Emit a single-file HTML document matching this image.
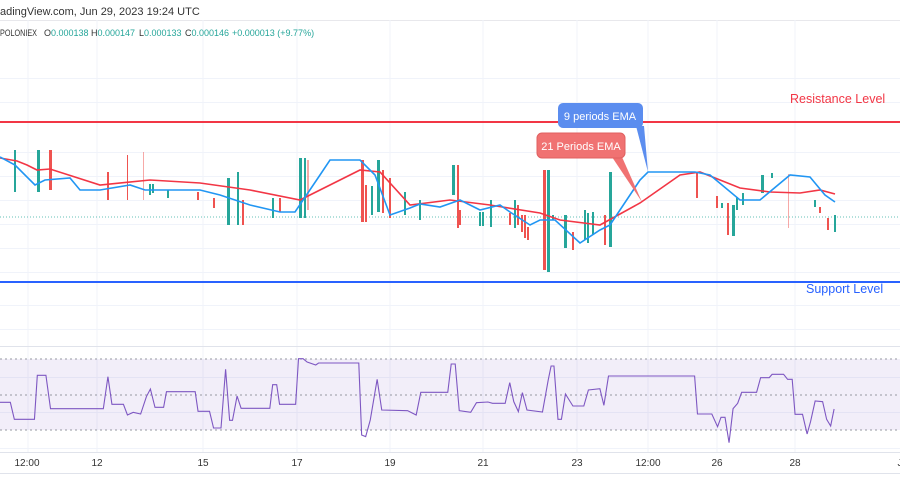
<!DOCTYPE html>
<html><head><meta charset="utf-8"><style>
html,body{margin:0;padding:0;background:#fff;width:900px;height:500px;overflow:hidden}
svg{display:block;font-family:"Liberation Sans",sans-serif}
</style></head><body>
<svg width="900" height="500" viewBox="0 0 900 500" xmlns="http://www.w3.org/2000/svg">
<rect width="900" height="500" fill="#fff"/>
<g stroke="#f0f3fa" stroke-width="1">
<line x1="0" y1="20.5" x2="900" y2="20.5" stroke="#e8e8ec"/>
<line x1="0" y1="78.5" x2="900" y2="78.5"/><line x1="0" y1="102.5" x2="900" y2="102.5"/>
<line x1="0" y1="152.5" x2="900" y2="152.5"/><line x1="0" y1="176.5" x2="900" y2="176.5"/>
<line x1="0" y1="200.5" x2="900" y2="200.5"/><line x1="0" y1="224.5" x2="900" y2="224.5"/>
<line x1="0" y1="248.5" x2="900" y2="248.5"/><line x1="0" y1="272.5" x2="900" y2="272.5"/>
<line x1="0" y1="305.5" x2="900" y2="305.5"/><line x1="0" y1="329.5" x2="900" y2="329.5"/>
<line x1="0" y1="377.5" x2="900" y2="377.5"/><line x1="0" y1="412.5" x2="900" y2="412.5"/>
<line x1="0" y1="448.5" x2="900" y2="448.5"/>
<line x1="28" y1="20" x2="28" y2="452"/><line x1="97" y1="20" x2="97" y2="452"/>
<line x1="203" y1="20" x2="203" y2="452"/><line x1="297" y1="20" x2="297" y2="452"/>
<line x1="390" y1="20" x2="390" y2="452"/><line x1="483" y1="20" x2="483" y2="452"/>
<line x1="577" y1="20" x2="577" y2="452"/><line x1="648" y1="20" x2="648" y2="452"/>
<line x1="717" y1="20" x2="717" y2="452"/><line x1="795" y1="20" x2="795" y2="452"/>
</g>
<text x="0" y="15" font-size="11" fill="#333">adingView.com, Jun 29, 2023 19:24 UTC</text>
<g font-size="9" fill="#333">
<text x="0" y="36" textLength="37" lengthAdjust="spacingAndGlyphs">POLONIEX</text>
<text x="44" y="36">O<tspan fill="#26a69a">0.000138</tspan></text>
<text x="91" y="36">H<tspan fill="#26a69a">0.000147</tspan></text>
<text x="139" y="36">L<tspan fill="#26a69a">0.000133</tspan></text>
<text x="185" y="36">C<tspan fill="#26a69a">0.000146</tspan></text>
<text x="232" y="36" fill="#26a69a">+0.000013 (+9.77%)</text>
</g>
<line x1="0" y1="217" x2="900" y2="217" stroke="#26a69a" stroke-width="1" stroke-dasharray="1,2" opacity="0.7"/>
<line x1="0" y1="122" x2="900" y2="122" stroke="#f23645" stroke-width="2"/>
<line x1="0" y1="282" x2="900" y2="282" stroke="#2962ff" stroke-width="2"/>
<text x="790" y="103" font-size="12.5" fill="#f23645">Resistance Level</text>
<text x="806" y="293" font-size="12.5" fill="#2962ff">Support Level</text>
<g fill="#26a69a">
<rect x="14" y="150" width="2" height="42"/><rect x="37" y="150" width="3" height="42"/>
<rect x="149" y="184" width="2" height="11"/><rect x="152" y="184" width="2" height="9"/>
<rect x="167" y="190" width="2" height="8"/><rect x="227" y="178" width="3" height="47"/>
<rect x="237" y="172" width="2" height="53"/><rect x="272" y="198" width="2" height="20"/>
<rect x="299" y="158" width="3" height="60"/><rect x="304" y="158" width="2" height="60"/>
<rect x="371" y="186" width="2" height="29"/><rect x="377" y="160" width="3" height="52"/>
<rect x="404" y="192" width="2" height="23"/><rect x="419" y="200" width="2" height="20"/>
<rect x="452" y="165" width="3" height="30"/><rect x="479" y="212" width="2" height="14"/>
<rect x="482" y="212" width="2" height="14"/><rect x="490" y="200" width="2" height="27"/>
<rect x="514" y="200" width="2" height="28"/><rect x="547" y="170" width="3" height="102"/>
<rect x="552" y="215" width="2" height="5"/><rect x="564" y="215" width="3" height="33"/>
<rect x="584" y="210" width="2" height="30"/><rect x="587" y="213" width="2" height="30"/>
<rect x="592" y="212" width="2" height="23"/><rect x="609" y="172" width="3" height="75"/>
<rect x="721" y="203" width="2" height="5"/><rect x="732" y="205" width="3" height="31"/>
<rect x="736" y="197" width="2" height="13"/><rect x="742" y="193" width="2" height="12"/>
<rect x="761" y="175" width="3" height="18"/><rect x="771" y="173" width="2" height="5"/>
<rect x="814" y="200" width="2" height="7"/><rect x="834" y="215" width="2" height="17"/>
</g>
<g fill="#ef5350">
<rect x="49" y="150" width="3" height="40"/><rect x="107" y="172" width="2" height="28"/>
<rect x="127" y="155" width="1" height="45"/><rect x="143" y="152" width="1" height="48" opacity="0.5"/>
<rect x="197" y="192" width="2" height="8"/><rect x="213" y="198" width="2" height="10"/>
<rect x="242" y="200" width="2" height="25"/><rect x="279" y="198" width="2" height="14"/>
<rect x="307" y="160" width="2" height="50" opacity="0.5"/><rect x="361" y="160" width="3" height="62"/>
<rect x="365" y="185" width="2" height="37"/><rect x="382" y="170" width="2" height="43"/>
<rect x="389" y="178" width="2" height="40"/><rect x="457" y="165" width="2" height="63"/>
<rect x="459" y="210" width="2" height="15"/><rect x="509" y="213" width="2" height="12"/>
<rect x="517" y="205" width="2" height="20"/><rect x="521" y="215" width="2" height="17"/>
<rect x="524" y="215" width="2" height="23"/><rect x="527" y="227" width="2" height="13"/>
<rect x="543" y="170" width="3" height="100"/><rect x="572" y="232" width="2" height="18"/>
<rect x="604" y="215" width="2" height="30"/><rect x="696" y="172" width="2" height="26"/>
<rect x="716" y="196" width="2" height="12"/><rect x="727" y="203" width="2" height="32"/>
<rect x="788" y="174" width="1" height="54" opacity="0.5"/><rect x="819" y="207" width="2" height="6"/>
<rect x="827" y="218" width="2" height="12"/>
</g>
<polyline fill="none" stroke="#f23645" stroke-width="1.6" points="0,158 17,161 27,165 37,170 50,169 100,185 150,180 200,183 250,190 300,200 360,170 380,172 410,205 450,200 490,205 540,213 560,220 600,225 640,203 650,196 680,175 700,172 740,188 770,192 800,193 820,190 835,194"/>
<polyline fill="none" stroke="#2196f3" stroke-width="1.6" points="0,157 15,165 35,185 45,180 70,178 80,190 100,190 130,185 145,190 200,190 220,195 250,205 280,212 295,212 320,175 330,160 360,160 375,175 390,215 410,208 420,204 440,207 460,200 480,210 500,205 510,212 530,225 540,220 555,220 580,243 600,230 610,225 640,180 648,172 695,172 710,175 740,200 760,200 790,175 810,177 825,195 835,202"/>
<path d="M636,126 L648,172 L644,126 Z" fill="#5b8def"/>
<rect x="558" y="103" width="85" height="25" rx="5" fill="#5b8def"/>
<text x="600" y="120" font-size="11" fill="#fff" text-anchor="middle">9 periods EMA</text>
<path d="M612,157 L642,202 L622,157 Z" fill="#f07272"/>
<rect x="537" y="133" width="88" height="25" rx="5" fill="#f07272" stroke="#e06060"/>
<text x="581" y="150" font-size="11" fill="#fff" text-anchor="middle">21 Periods EMA</text>
<line x1="0" y1="346.5" x2="900" y2="346.5" stroke="#e0e3eb"/>
<rect x="0" y="359" width="900" height="71" fill="#7e57c2" opacity="0.1"/>
<g stroke="#9598a1" stroke-width="1" stroke-dasharray="2,3">
<line x1="0" y1="359" x2="900" y2="359"/><line x1="0" y1="395" x2="900" y2="395"/><line x1="0" y1="430" x2="900" y2="430"/>
</g>
<g transform="translate(0,340) scale(0.57405,0.33333)">
<polyline fill="none" stroke="#7e57c2" stroke-width="1.1" vector-effect="non-scaling-stroke" points="0,187 18,187 25,238 60,238 65,106 80,106 88,206 180,206 188,110 195,193 215,193 222,225 232,217 245,222 255,170 262,147 270,202 285,202 290,155 340,155 345,214 365,214 372,264 385,264 393,88 400,241 405,241 413,168 420,205 470,205 475,134 482,134 487,193 515,193 520,56 528,56 535,66 550,75 555,69 625,69 630,285 637,290 645,240 657,118 665,210 710,212 725,225 733,157 780,157 786,72 793,72 800,212 820,217 830,188 850,186 858,190 880,190 888,128 895,185 903,215 910,158 918,210 945,216 955,120 960,78 965,78 972,238 978,238 985,162 998,198 1017,198 1025,150 1045,146 1052,196 1060,108 1210,108 1215,222 1240,222 1250,260 1256,232 1263,232 1270,308 1277,206 1285,190 1292,157 1318,157 1325,113 1340,113 1345,103 1365,103 1372,118 1380,118 1385,223 1398,223 1406,282 1412,245 1420,183 1433,185 1440,238 1447,258 1453,207"/>
</g>
<line x1="0" y1="452.5" x2="900" y2="452.5" stroke="#e0e3eb"/>
<line x1="0" y1="473.5" x2="900" y2="473.5" stroke="#e0e3eb"/>
<g font-size="10" fill="#333" text-anchor="middle">
<text x="27" y="466">12:00</text><text x="97" y="466">12</text><text x="203" y="466">15</text>
<text x="297" y="466">17</text><text x="390" y="466">19</text><text x="483" y="466">21</text>
<text x="577" y="466">23</text><text x="648" y="466">12:00</text><text x="717" y="466">26</text>
<text x="795" y="466">28</text><text x="900" y="466">J</text>
</g>
</svg>
</body></html>
